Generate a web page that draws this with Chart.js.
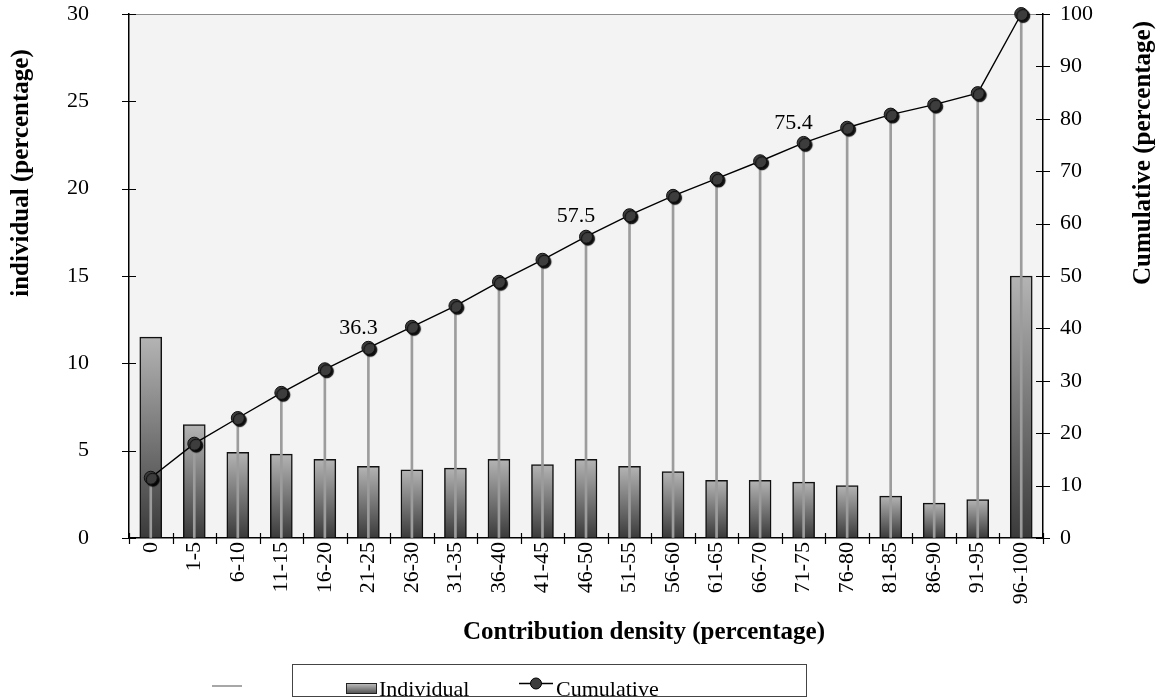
<!DOCTYPE html>
<html>
<head>
<meta charset="utf-8">
<title>Contribution density</title>
<script src="https://cdn.jsdelivr.net/npm/chart.js@4.4.1/dist/chart.umd.min.js"></script>
<style>
  html, body { margin: 0; padding: 0; background: #fff; }
</style>
</head>
<body>
<canvas id="densityChart" width="1164" height="698"></canvas>
<script>
// Data
const categories = ['0', '1-5', '6-10', '11-15', '16-20', '21-25', '26-30', '31-35', '36-40', '41-45',
  '46-50', '51-55', '56-60', '61-65', '66-70', '71-75', '76-80', '81-85', '86-90', '91-95', '96-100'];
const individual = [11.5, 6.5, 4.9, 4.8, 4.5, 4.1, 3.9, 4.0, 4.5, 4.2,
  4.5, 4.1, 3.8, 3.3, 3.3, 3.2, 3.0, 2.4, 2.0, 2.2, 15.0];
const cumulative = [11.5, 18.0, 22.9, 27.7, 32.2, 36.3, 40.3, 44.3, 48.9, 53.1,
  57.5, 61.6, 65.3, 68.6, 71.9, 75.4, 78.3, 80.8, 82.7, 84.9, 100];
const labelledPoints = [5, 10, 15];
const leftAxisMax = 30;
const leftAxisStep = 5;
const rightAxisMax = 100;
const rightAxisStep = 10;

const FONT = '"Liberation Serif", "Times New Roman", serif';

// gradient per bar, light at the top and dark at the base
function barFill(context) {
  const chart = context.chart;
  const yScale = chart.scales.y;
  if (!chart.chartArea || !yScale || !context.parsed) return '#777';
  const top = yScale.getPixelForValue(context.parsed.y);
  const base = yScale.getPixelForValue(0);
  const g = chart.ctx.createLinearGradient(0, top, 0, base);
  g.addColorStop(0, '#b4b4b4');
  g.addColorStop(1, '#3a3a3a');
  return g;
}

// hidden tick marks only push the labels away from the axis;
// the visible ticks are drawn by chartDecor so they cross the axis
const hiddenGrid = len => ({
  display: true,
  drawOnChartArea: false,
  drawTicks: true,
  tickLength: len,
  color: 'rgba(0,0,0,0)'
});

// plot background, axis ticks, titles, value labels and legend
const chartDecor = {
  id: 'chartDecor',
  beforeDraw(chart) {
    const { ctx, chartArea: a } = chart;
    ctx.save();
    ctx.fillStyle = '#f3f3f3';
    ctx.fillRect(a.left, a.top, a.right - a.left, a.bottom - a.top);
    ctx.strokeStyle = '#8c8c8c';
    ctx.lineWidth = 1;
    ctx.beginPath();
    ctx.moveTo(a.left, a.top + 0.5);
    ctx.lineTo(a.right, a.top + 0.5);
    ctx.stroke();
    ctx.restore();
  },
  beforeDatasetDraw(chart, args) {
    if (chart.data.datasets[args.index].label !== 'markers') return;
    const ctx = chart.ctx;
    ctx.save();
    ctx.shadowColor = 'rgba(0,0,0,0.95)';
    ctx.shadowOffsetX = 2;
    ctx.shadowOffsetY = 2;
    ctx.shadowBlur = 1;
  },
  afterDatasetDraw(chart, args) {
    if (chart.data.datasets[args.index].label !== 'markers') return;
    chart.ctx.restore();
  },
  afterDraw(chart) {
    const { ctx, chartArea: a } = chart;
    const xs = chart.scales.x, yl = chart.scales.y, yr = chart.scales.y2;
    ctx.save();
    ctx.strokeStyle = '#000';
    ctx.lineWidth = 1.2;
    ctx.beginPath();
    // x ticks at category boundaries
    const n = categories.length;
    for (let i = 0; i <= n; i++) {
      let x;
      if (i === 0) x = a.left;
      else if (i === n) x = a.right;
      else x = (xs.getPixelForValue(i - 1) + xs.getPixelForValue(i)) / 2;
      x = Math.round(x) + 0.5;
      ctx.moveTo(x, a.bottom - 5);
      ctx.lineTo(x, a.bottom + 6);
    }
    yl.ticks.forEach(t => {
      const y = Math.round(yl.getPixelForValue(t.value)) + 0.5;
      ctx.moveTo(a.left - 7, y);
      ctx.lineTo(a.left + 7, y);
    });
    yr.ticks.forEach(t => {
      const y = Math.round(yr.getPixelForValue(t.value)) + 0.5;
      ctx.moveTo(a.right - 7, y);
      ctx.lineTo(a.right + 7, y);
    });
    ctx.stroke();

    // value labels
    const meta = chart.getDatasetMeta(3);
    ctx.fillStyle = '#000';
    ctx.font = '22px ' + FONT;
    ctx.textAlign = 'center';
    ctx.textBaseline = 'middle';
    labelledPoints.forEach(i => {
      const p = meta.data[i];
      ctx.fillText(cumulative[i].toFixed(1), p.x - 10, p.y - 20);
    });

    // axis titles
    ctx.font = 'bold 25px ' + FONT;
    ctx.fillText('Contribution density (percentage)', 644, 633);
    ctx.save();
    ctx.translate(22, 173);
    ctx.rotate(-Math.PI / 2);
    ctx.fillText('individual (percentage)', 0, 0);
    ctx.restore();
    ctx.save();
    ctx.translate(1144, 153);
    ctx.rotate(-Math.PI / 2);
    ctx.fillText('Cumulative (percentage)', 0, 0);
    ctx.restore();

    // legend
    ctx.strokeStyle = '#8a8a8a';
    ctx.lineWidth = 1.5;
    ctx.beginPath();
    ctx.moveTo(212, 686);
    ctx.lineTo(242, 686);
    ctx.stroke();

    ctx.strokeStyle = '#444';
    ctx.lineWidth = 1;
    ctx.strokeRect(292.5, 664.5, 514, 32);

    const g = ctx.createLinearGradient(0, 683, 0, 694);
    g.addColorStop(0, '#c4c4c4');
    g.addColorStop(1, '#4a4a4a');
    ctx.fillStyle = g;
    ctx.fillRect(346, 683, 31, 11);
    ctx.strokeStyle = '#222';
    ctx.strokeRect(346.5, 683.5, 30, 10);

    ctx.strokeStyle = '#000';
    ctx.lineWidth = 1.3;
    ctx.beginPath();
    ctx.moveTo(519, 683.5);
    ctx.lineTo(553, 683.5);
    ctx.stroke();
    ctx.beginPath();
    ctx.arc(536, 683.5, 5.5, 0, Math.PI * 2);
    ctx.fillStyle = '#3d3d3d';
    ctx.fill();
    ctx.lineWidth = 1;
    ctx.stroke();

    ctx.fillStyle = '#000';
    ctx.font = '22px ' + FONT;
    ctx.textAlign = 'left';
    ctx.textBaseline = 'alphabetic';
    ctx.fillText('Individual', 379, 696);
    ctx.fillText('Cumulative', 556, 696);
    ctx.restore();
  }
};

const ctx = document.getElementById('densityChart').getContext('2d');

new Chart(ctx, {
  type: 'bar',
  data: {
    labels: categories,
    datasets: [
      {
        label: 'Individual',
        data: individual,
        yAxisID: 'y',
        backgroundColor: barFill,
        borderColor: '#111',
        borderWidth: 1.5,
        barThickness: 22,
        grouped: false,
        order: 4
      },
      {
        label: 'stems',
        data: cumulative,
        yAxisID: 'y2',
        backgroundColor: '#9c9c9c',
        borderWidth: 0,
        barThickness: 2,
        grouped: false,
        order: 3
      },
      {
        type: 'line',
        label: 'Cumulative',
        data: cumulative,
        yAxisID: 'y2',
        borderColor: '#000',
        borderWidth: 1.4,
        pointRadius: 0,
        tension: 0,
        clip: false,
        order: 2
      },
      {
        type: 'line',
        label: 'markers',
        data: cumulative,
        yAxisID: 'y2',
        showLine: false,
        pointRadius: 6.5,
        pointBackgroundColor: '#3d3d3d',
        pointBorderColor: '#111',
        pointBorderWidth: 1,
        clip: false,
        order: 1
      }
    ]
  },
  options: {
    responsive: false,
    animation: false,
    devicePixelRatio: 1,
    layout: { padding: { top: 14, left: 0, right: 0, bottom: 0 } },
    plugins: {
      legend: { display: false },
      tooltip: { enabled: false }
    },
    scales: {
      x: {
        offset: true,
        grid: hiddenGrid(4),
        border: { display: true, color: '#000', width: 1.5 },
        ticks: {
          autoSkip: false,
          minRotation: 90,
          maxRotation: 90,
          padding: 0,
          color: '#000',
          font: { family: FONT, size: 22 }
        },
        afterFit: s => { s.height = 160; }
      },
      y: {
        position: 'left',
        min: 0,
        max: leftAxisMax,
        grid: hiddenGrid(40),
        border: { display: true, color: '#000', width: 1.5 },
        ticks: {
          stepSize: leftAxisStep,
          padding: 0,
          color: '#000',
          font: { family: FONT, size: 22 }
        },
        afterFit: s => { s.width = 129; }
      },
      y2: {
        position: 'right',
        min: 0,
        max: rightAxisMax,
        grid: hiddenGrid(17),
        border: { display: true, color: '#000', width: 1.5 },
        ticks: {
          stepSize: rightAxisStep,
          padding: 0,
          color: '#000',
          font: { family: FONT, size: 22 }
        },
        afterFit: s => { s.width = 121; }
      }
    }
  },
  plugins: [chartDecor]
});
</script>
</body>
</html>
